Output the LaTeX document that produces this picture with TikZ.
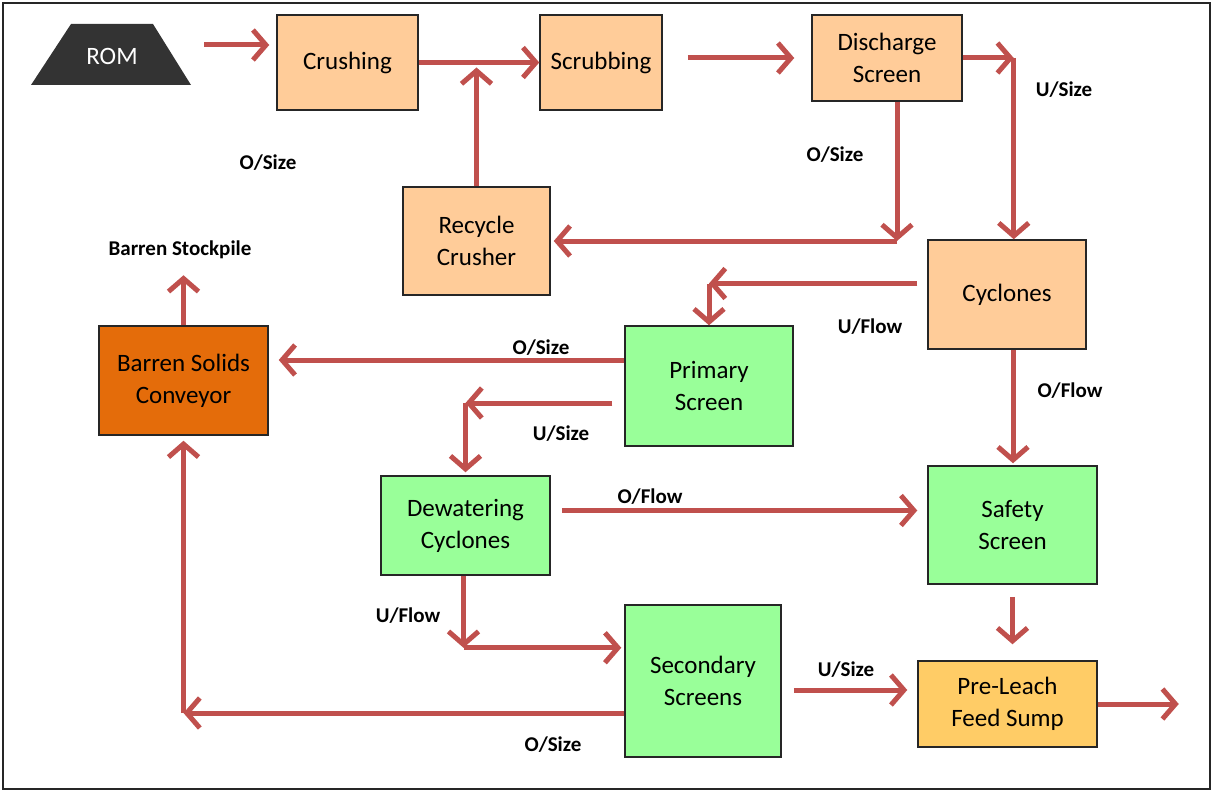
\documentclass[tikz,border=0pt]{standalone}
\usepackage{fontspec}
\setmainfont{Carlito}
\usetikzlibrary{arrows.meta}
\definecolor{arrred}{HTML}{C0504D}
\definecolor{peach}{HTML}{FFCC99}
\definecolor{mint}{HTML}{99FF99}
\definecolor{burnt}{HTML}{E46C0A}
\definecolor{sump}{HTML}{FFCC66}
\definecolor{romgray}{HTML}{333333}
\begin{document}
\begin{tikzpicture}[x=1pt,y=-1pt,
  box/.style={draw=black!85, line width=1.5pt, inner sep=0pt, align=center,
    font=\fontsize{25}{32}\selectfont},
  arr/.style={draw=arrred, line width=5pt, -{Straight Barb[length=13pt,width=30pt]}},
  lbl/.style={font=\bfseries\fontsize{21}{24}\selectfont, inner sep=0pt}]
\useasboundingbox (0,0) rectangle (1213,792);
\draw[line width=2pt, black!85] (3,3) rectangle (1210,789);

% nodes
\fill[romgray] (31,85) -- (71,24) -- (153,24) -- (191,85) -- cycle;
\node[text=white, inner sep=0pt, font=\fontsize{25}{28}\selectfont] (rom) at (112,56) {ROM};
\node[box, fill=peach, minimum width=141pt, minimum height=95pt] (crush) at (347.5,62.5) {Crushing};
\node[box, fill=peach, minimum width=122pt, minimum height=95pt] (scrub) at (601,62.5) {Scrubbing};
\node[box, fill=peach, minimum width=150pt, minimum height=86pt] (disch) at (887,58) {Discharge\\Screen};
\node[box, fill=peach, minimum width=147pt, minimum height=108pt] (recyc) at (476.5,241) {Recycle\\Crusher};
\node[box, fill=peach, minimum width=158pt, minimum height=109pt] (cyc) at (1007,294.5) {Cyclones};
\node[box, fill=burnt, minimum width=169pt, minimum height=109pt] (barren) at (183.5,380.5) {Barren Solids\\Conveyor};
\node[box, fill=mint, minimum width=168pt, minimum height=120pt] (prim) at (709,386) {Primary\\Screen};
\node[box, fill=mint, minimum width=169pt, minimum height=99pt] (dewat) at (465.5,525.5) {Dewatering\\Cyclones};
\node[box, fill=mint, minimum width=169pt, minimum height=118pt] (safety) at (1012.5,525) {Safety\\Screen};
\node[box, fill=mint, minimum width=156pt, minimum height=152pt] (second) at (703,681) {Secondary\\Screens};
\node[box, fill=sump, minimum width=179pt, minimum height=86pt] (preleach) at (1007.5,704) {Pre-Leach\\Feed Sump};

% junction coordinates
\coordinate (romout) at (204,45);
\coordinate (dj) at ([xshift=51pt]disch.east);
\coordinate (dk) at ([xshift=10pt]disch.south);
\coordinate (ck) at ([xshift=-10pt,yshift=11pt]cyc.west);
\coordinate (pk) at ([yshift=26pt]prim.west);
\coordinate (pu) at ([xshift=-12pt,yshift=-17pt]prim.west);
\coordinate (dw) at ([xshift=11pt,yshift=15pt]dewat.east);
\coordinate (dd) at ([xshift=-2pt]dewat.south);
\coordinate (dc) at ([yshift=-72pt]dd);
\coordinate (so) at ([yshift=-32pt]second.west);
\coordinate (sb) at (so -| barren.south);
\coordinate (sp) at ([xshift=12pt,yshift=-9pt]second.east);

% connectors
\draw[arr, shorten >=7pt] (romout) -- (romout -| crush.west);
\draw[arr] (crush.east) -- (scrub.west);
\draw[arr, shorten >=5pt] (recyc.north) -- (recyc.north |- crush.east);
\draw[arr, shorten <=25pt, shorten >=17pt] (scrub.east |- disch.west) -- (disch.west);
\draw[arr] (disch.east) -- (dj);
\draw[arr] (dj) -- (dj |- cyc.north);
\draw[arr] (dk) -- (dk |- recyc.east);
\draw[arr, shorten >=3pt] (dk |- recyc.east) -- (recyc.east);
\draw[arr] (ck) -- (ck -| prim.north);
\draw[arr] (ck -| prim.north) -- (prim.north);
\draw[arr, shorten >=10pt] (pk) -- (pk -| barren.east);
\draw[arr] (pu) -- (pu -| dewat.north);
\draw[arr, shorten >=3pt] (pu -| dewat.north) -- (dewat.north);
\draw[arr] (barren.north) -- ++(0,-50);
\draw[arr, shorten >=10pt] (dw) -- (dw -| safety.west);
\draw[arr, shorten >=2pt] ([xshift=6pt]cyc.south) -- ([xshift=6pt]cyc.south |- safety.north);
\draw[arr] (dd) -- (dc);
\draw[arr, shorten >=3pt] (dc) -- (dc -| second.west);
\draw[arr] (so) -- (sb);
\draw[arr, shorten >=5pt] (sb) -- (barren.south);
\draw[arr, shorten <=12pt, shorten >=16pt] (safety.south) -- (safety.south |- preleach.north);
\draw[arr, shorten >=10pt] (sp) -- (sp -| preleach.west);
\draw[arr] (preleach.east) -- ++(81,0);

% labels
\node[lbl] (l1) at (268,163) {O/Size};
\node[lbl] (l2) at (180,250) {Barren Stockpile};
\node[lbl] (l3) at (1064,90) {U/Size};
\node[lbl] (l4) at (835,155) {O/Size};
\node[lbl] (l5) at (870,327) {U/Flow};
\node[lbl] (l6) at (541,348) {O/Size};
\node[lbl] (l7) at (561,434) {U/Size};
\node[lbl] (l8) at (1070,391) {O/Flow};
\node[lbl] (l9) at (650,497) {O/Flow};
\node[lbl] (l10) at (408,616) {U/Flow};
\node[lbl] (l11) at (846,670) {U/Size};
\node[lbl] (l12) at (553,745) {O/Size};
\end{tikzpicture}
\end{document}
